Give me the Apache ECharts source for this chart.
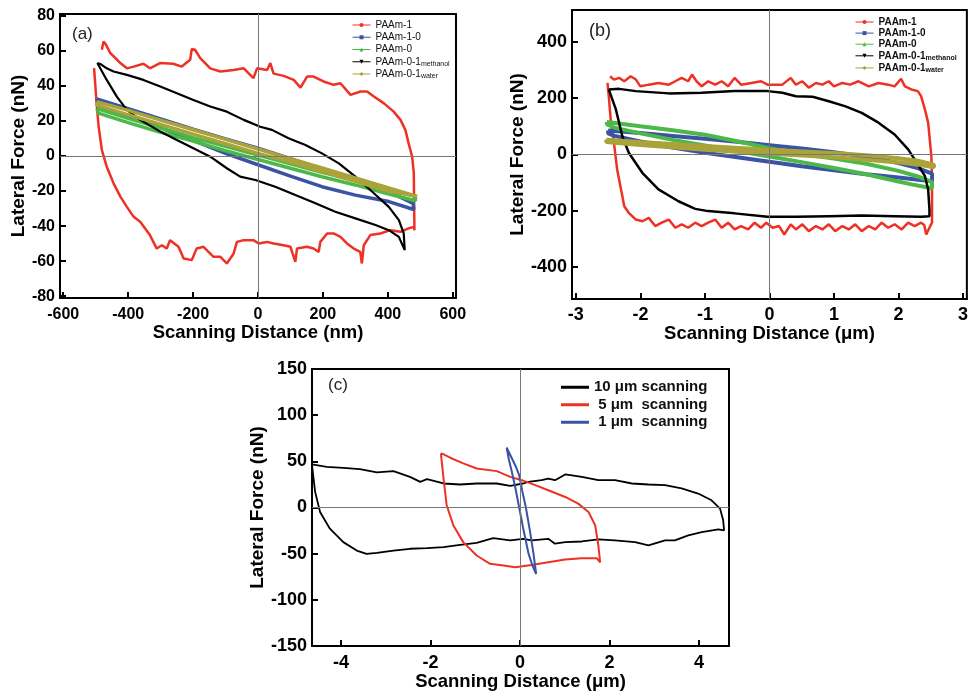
<!DOCTYPE html>
<html>
<head>
<meta charset="utf-8">
<script src="https://cdn.jsdelivr.net/npm/echarts@6/dist/echarts.min.js"></script>
<style>
  html, body { margin: 0; padding: 0; background: #fff; }
  #chart { width: 971px; height: 699px; }
</style>
</head>
<body>
<div id="chart"></div>
<script>
// ---- tick labels ----
const aXTicks = [-600, -400, -200, 0, 200, 400, 600];
const aYTicks = [-80, -60, -40, -20, 0, 20, 40, 60, 80];
const bXTicks = [-3, -2, -1, 0, 1, 2, 3];
const bYTicks = [-400, -200, 0, 200, 400];
const cXTicks = [-4, -2, 0, 2, 4];
const cYTicks = [-150, -100, -50, 0, 50, 100, 150];

// ---- legend names ----
const abNames = ['PAAm-1', 'PAAm-1-0', 'PAAm-0', 'PAAm-0-1methanol', 'PAAm-0-1water'];
const cNames = ['10 μm scanning', '5 μm  scanning', '1 μm  scanning'];

// ---- panel (a): scanning distance (nm), lateral force (nN) ----
const aRed = [
  [-481,60.6],[-476,65.3],[-468,63.4],[-455,58.7],[-434,54.9],[-424,53],[-404,50],[-383,51],[-353,52.6],[-333,50],
  [-302,53],[-261,52.6],[-235,51],[-209,54.9],[-204,61],[-194,60.6],[-178,55.8],[-147,50],[-116,48.2],[-75,49.1],
  [-44,50],[-14,44.4],[-3,50],[28,49],[38,53],[48,47],[79,45.7],[110,43.4],[131,39],[151,45.3],[171,45.3],
  [202,42.5],[233,40.6],[254,41.5],[285,34.9],[316,36.8],[336,36.8],[357,33.9],[388,30],[418,25.3],[439,20.6],
  [454,14.9],[464,7.2],[475,-0.4],[480,-9.9],[482,-42.3],
  [480,-40.4],[464,-41.3],[439,-43.2],[408,-42.3],[377,-44.2],[346,-45.1],[326,-50.9],[320,-61.3],[315,-54.7],
  [295,-52.8],[274,-49.9],[254,-46.1],[233,-44.2],[213,-44.2],[192,-49],[187,-54.7],[171,-52.8],[151,-51.8],
  [120,-52.8],[115,-60.4],[100,-51.8],[79,-50.9],[48,-49.9],[28,-49],[2,-49.9],[-14,-48],[-44,-48],[-65,-49],
  [-75,-55.6],[-96,-61.3],[-116,-57.5],[-137,-57.5],[-168,-51.8],[-189,-52.8],[-204,-59.4],[-229,-58.5],
  [-245,-51.8],[-271,-48],[-281,-52.8],[-296,-50.9],[-312,-52.8],[-333,-45.1],[-363,-37.5],[-383,-34.7],
  [-404,-29],[-424,-23.2],[-445,-15.6],[-466,-6.1],[-481,3.4],[-491,16.8],[-498,32],[-505,50.1]
];
const aBlue = [
  [-497,32.5],[-400,27],[-300,21.2],[-200,15.3],[-100,9.8],[0,4.4],[100,-1.5],[200,-7.5],[300,-13.5],[400,-20],[478,-27],
  [480,-30.5],[403,-26],[300,-22.3],[197,-17.5],[100,-11.5],[0,-5],[-100,1.5],[-250,12.6],[-400,23],[-490,28.5],[-497,32.5]
];
const aGreen = [
  [-496,27],[-400,21.5],[-300,16],[-200,10.5],[-100,5.5],[0,0.5],[100,-4.5],[200,-9.5],[300,-14],[400,-19],[485,-23],
  [485,-25.5],[400,-21.5],[300,-16.5],[200,-12],[100,-7],[0,-2],[-100,3],[-200,8.5],[-300,13.5],[-400,19],[-492,24.5],[-496,27]
];
const aBlack = [
  [-495,53],[-486,52.5],[-466,50],[-445,48.2],[-404,46.3],[-353,43.4],[-301,39.6],[-250,35.8],[-199,32],[-147,28.2],
  [-96,25.3],[-44,20.6],[7,16.7],[43,14.9],[94,10.1],[146,6.3],[197,1.5],[249,-4.2],[300,-11.8],[352,-20.4],
  [403,-29],[434,-36.6],[449,-44.2],[452,-53.7],
  [449,-52.7],[434,-46.1],[403,-42.3],[362,-39.4],[300,-35.6],[238,-31.8],[177,-27],[115,-22.3],[53,-17.5],
  [-8,-13.7],[-55,-11.8],[-96,-7],[-147,-0.4],[-199,4.4],[-250,9.1],[-301,13.9],[-363,20.6],[-404,26.3],
  [-435,33.9],[-466,43.4],[-495,53]
];
const aOlive = [
  [-497,31],[-400,26],[-300,20.5],[-200,15],[-100,9.5],[0,4],[100,-1.5],[200,-7],[300,-12.5],[400,-18],[490,-23],
  [490,-24],[400,-20],[300,-14.5],[200,-9],[100,-3.5],[0,1.5],[-100,7],[-200,12.5],[-300,18],[-400,23.5],[-497,29],[-497,31]
];

// ---- panel (b): scanning distance (μm), lateral force (nN) ----
const bRed = [
  [-2.47,278],[-2.41,266],[-2.33,272],[-2.25,260],[-2.15,278],[-2.07,266],[-2.0,242],[-1.87,248],[-1.72,254],[-1.56,248],
  [-1.46,260],[-1.36,272],[-1.26,260],[-1.2,284],[-1.13,260],[-1.05,242],[-0.95,260],[-0.84,248],[-0.74,260],[-0.64,242],
  [-0.54,272],[-0.44,248],[-0.28,254],[-0.13,260],[-0.03,248],[0.05,248],[0.2,248],[0.33,272],[0.41,248],[0.51,260],
  [0.61,237],[0.72,254],[0.82,248],[0.92,260],[1.0,242],[1.13,254],[1.25,248],[1.38,260],[1.54,242],[1.69,254],
  [1.84,248],[1.94,242],[2.04,269],[2.1,242],[2.2,231],[2.3,225],[2.35,207],[2.41,160],[2.46,113],[2.48,65],
  [2.51,-6],[2.52,-100],[2.52,-242],[2.48,-260],[2.43,-284],[2.4,-250],
  [2.35,-242],[2.25,-254],[2.15,-242],[2.05,-266],[1.94,-248],[1.84,-260],[1.74,-242],[1.64,-266],[1.54,-254],
  [1.43,-272],[1.33,-248],[1.23,-266],[1.13,-254],[1.02,-272],[0.92,-248],[0.82,-266],[0.72,-254],[0.61,-272],
  [0.51,-248],[0.41,-266],[0.33,-248],[0.23,-284],[0.15,-254],[0.05,-260],[-0.05,-242],[-0.13,-260],[-0.23,-242],
  [-0.33,-266],[-0.44,-254],[-0.54,-266],[-0.64,-242],[-0.74,-260],[-0.84,-231],[-0.95,-242],[-1.05,-254],
  [-1.15,-242],[-1.26,-260],[-1.36,-248],[-1.46,-260],[-1.56,-231],[-1.67,-242],[-1.77,-254],[-1.87,-225],
  [-1.97,-237],[-2.07,-231],[-2.18,-207],[-2.25,-184],[-2.3,-124],[-2.36,-53],[-2.41,42],[-2.46,124],[-2.49,207],[-2.51,254]
];
const bBlue = [
  [-2.5,85],[-2,76],[-1.5,66],[-1,56],[-0.5,45],[0,33],[0.5,21],[1,8],[1.5,-8],[2,-30],[2.3,-48],[2.52,-68],
  [2.52,-95],[2,-82],[1.5,-70],[1,-56],[0.5,-42],[0,-26],[-0.5,-10],[-1,6],[-1.5,25],[-2,46],[-2.4,66],[-2.5,75],[-2.5,85]
];
const bGreen = [
  [-2.52,115],[-2,100],[-1.5,86],[-1,70],[-0.5,47],[0,22],[0.5,2],[1,-14],[1.5,-33],[2,-58],[2.3,-78],[2.52,-98],
  [2.52,-120],[2.2,-106],[2,-96],[1.5,-70],[1,-48],[0.5,-27],[0,-7],[-0.5,12],[-1,32],[-1.5,52],[-2,75],[-2.4,95],[-2.52,108],[-2.52,115]
];
const bBlack = [
  [-2.49,231],[-2.33,233],[-2.07,225],[-1.56,217],[-1.05,219],[-0.54,225],[-0.03,225],[0.2,219],[0.41,207],[0.67,205],
  [0.92,189],[1.18,171],[1.43,148],[1.69,113],[1.94,71],[2.15,18],[2.3,-35],[2.41,-77],[2.46,-124],[2.48,-195],[2.48,-219],
  [2.35,-221],[1.94,-219],[1.43,-217],[0.92,-219],[0.41,-221],[-0.03,-221],[-0.54,-209],[-0.95,-201],[-1.15,-193],
  [-1.41,-166],[-1.72,-124],[-1.97,-65],[-2.18,6],[-2.28,65],[-2.38,160],[-2.49,231]
];
const bOlive = [
  [-2.53,52],[-2,44],[-1,30],[0,17],[1,5],[1.5,-3],[2,-13],[2.3,-22],[2.55,-36],
  [2.55,-45],[2.3,-36],[2,-28],[1.5,-19],[1,-10],[0,3],[-1,17],[-2,34],[-2.53,44],[-2.53,52]
];

// ---- panel (c): scanning distance (μm), lateral force (nN) ----
const c10um = [
  [-4.65,46.7],[-4.32,44],[-3.95,43],[-3.58,41.6],[-3.2,38],[-2.83,39.4],[-2.46,33.2],[-2.23,27.7],[-2.08,30.7],
  [-1.71,26],[-1.34,24.9],[-0.97,26],[-0.52,26],[-0.22,23.4],[0.07,26],[0.19,27.7],[0.48,29.6],[0.63,31.4],
  [0.78,29.6],[1.01,35.8],[1.38,33.2],[1.75,29.6],[2.12,29.6],[2.5,26],[2.87,24.9],[3.24,24.2],[3.61,20.6],
  [3.98,15.1],[4.28,7.8],[4.47,-1.2],[4.54,-13.9],[4.56,-24.8],
  [4.43,-23.7],[4.06,-26.7],[3.76,-30.2],[3.46,-35.7],[3.24,-35.7],[2.87,-41.1],[2.57,-37.5],[2.12,-35.7],
  [1.75,-34.6],[1.38,-36.8],[1.01,-37.5],[0.78,-39.2],[0.63,-33.9],[0.26,-35.7],[0.07,-33.9],[-0.22,-35.7],
  [-0.6,-33.2],[-0.97,-38.2],[-1.34,-40.4],[-1.71,-43],[-2.08,-44],[-2.46,-44.7],[-2.83,-46.6],[-3.2,-49.1],
  [-3.43,-50.2],[-3.65,-46.6],[-3.95,-37.5],[-4.25,-23],[-4.47,-4.9],[-4.58,16.9],[-4.65,46]
];
const c5um = [
  [-1.77,58.6],[-1.71,31.4],[-1.64,2.4],[-1.49,-19.4],[-1.27,-37.5],[-0.97,-52],[-0.67,-61],[-0.37,-62.9],
  [-0.11,-64.7],[0.26,-62.2],[0.63,-59.3],[1.01,-56.4],[1.38,-54.9],[1.71,-54.9],[1.79,-59.3],[1.75,-41.1],
  [1.68,-19.4],[1.53,-4.9],[1.3,4.2],[1.01,11.4],[0.63,18.7],[0.34,24.2],[0.04,29.6],[-0.22,33.2],[-0.52,39.4],
  [-0.97,42.3],[-1.27,47.8],[-1.56,53.9],[-1.71,57.6],[-1.77,58.6]
];
const c1um = [
  [-0.3,65],[-0.2,55],[-0.1,45],[-0.02,35],[0.05,18],[0.13,0],[0.22,-25],[0.3,-50],[0.36,-72],
  [0.27,-62],[0.19,-50],[0.08,-25],[-0.02,0],[-0.1,20],[-0.19,40],[-0.25,52],[-0.3,65]
];

const FONT = '"Liberation Sans", Arial, sans-serif';
const RED = '#ee3124', BLUE = '#3a53a4', GREEN = '#4cb848', OLIVE = '#a9a33a', BLACK = '#000000';

function xAxisOf(grid, min, max, ticks, name, fs, margin) {
  return {
    gridIndex: grid, type: 'value', min: min, max: max,
    axisLine: { onZero: false, lineStyle: { color: '#000', width: 2 } },
    axisTick: { inside: true, length: 6, lineStyle: { color: '#000', width: 2 }, customValues: ticks },
    axisLabel: { customValues: ticks, color: '#000', fontWeight: 'bold', fontSize: fs, fontFamily: FONT, margin: margin },
    splitLine: { show: false },
    name: name, nameLocation: 'middle', nameGap: 23,
    nameTextStyle: { color: '#000', fontWeight: 'bold', fontSize: 18.5, fontFamily: FONT }
  };
}
function yAxisOf(grid, min, max, ticks, fs, gap) {
  return {
    gridIndex: grid, type: 'value', min: min, max: max,
    axisLine: { onZero: false, lineStyle: { color: '#000', width: 2 } },
    axisTick: { inside: true, length: 6, lineStyle: { color: '#000', width: 2 }, customValues: ticks },
    axisLabel: { customValues: ticks, color: '#000', fontWeight: 'bold', fontSize: fs, fontFamily: FONT, margin: 5 },
    splitLine: { show: false },
    name: 'Lateral Force (nN)', nameLocation: 'middle', nameGap: gap,
    nameTextStyle: { color: '#000', fontWeight: 'bold', fontSize: 19, fontFamily: FONT }
  };
}
const cross = {
  silent: true, symbol: ['none', 'none'], animation: false,
  label: { show: false },
  lineStyle: { color: '#777', width: 1, type: 'solid' },
  data: [{ xAxis: 0 }, { yAxis: 0 }]
};
function line(name, data, color, width, ax, symbol, withCross) {
  const s = {
    name: name, type: 'line', data: data, xAxisIndex: ax, yAxisIndex: ax,
    symbol: symbol, symbolSize: 4, showSymbol: false, smooth: false,
    lineStyle: { color: color, width: width }, itemStyle: { color: color },
    animation: false, silent: true
  };
  if (withCross) s.markLine = cross;
  return s;
}
const downTri = 'path://M0,0L10,0L5,9Z';

function subFmt(name) {
  if (name === 'PAAm-0-1methanol') return 'PAAm-0-1{s|methanol}';
  if (name === 'PAAm-0-1water') return 'PAAm-0-1{s|water}';
  return name;
}

const option = {
  backgroundColor: '#fff',
  title: [
    { text: '(a)', left: 72, top: 26, padding: 0, textStyle: { fontSize: 17, fontWeight: 'normal', color: '#222', fontFamily: FONT } },
    { text: '(b)', left: 589, top: 22, padding: 0, textStyle: { fontSize: 18, fontWeight: 'normal', color: '#222', fontFamily: FONT } },
    { text: '(c)', left: 328, top: 377, padding: 0, textStyle: { fontSize: 17, fontWeight: 'normal', color: '#222', fontFamily: FONT } }
  ],
  grid: [
    { left: 60, top: 14, width: 396, height: 284, show: true, borderColor: '#000', borderWidth: 2, backgroundColor: 'transparent' },
    { left: 572, top: 10, width: 397, height: 289, show: true, borderColor: '#000', borderWidth: 2, backgroundColor: 'transparent' },
    { left: 312, top: 369, width: 417, height: 277, show: true, borderColor: '#000', borderWidth: 2, backgroundColor: 'transparent' }
  ],
  xAxis: [
    xAxisOf(0, -610, 610, aXTicks, 'Scanning Distance (nm)', 16, 9),
    xAxisOf(1, -3.06, 3.06, bXTicks, 'Scanning Distance (μm)', 18, 7),
    xAxisOf(2, -4.65, 4.67, cXTicks, 'Scanning Distance (μm)', 18, 8)
  ],
  yAxis: [
    yAxisOf(0, -81, 81, aYTicks, 16, 30),
    yAxisOf(1, -513, 513, bYTicks, 18, 40),
    yAxisOf(2, -150, 150, cYTicks, 18, 44)
  ],
  legend: [
    {
      data: abNames, left: 352, top: 19, orient: 'vertical', padding: 0,
      itemWidth: 18, itemHeight: 5, itemGap: 0.25, selectedMode: false,
      lineStyle: { width: 1 }, formatter: subFmt,
      textStyle: { fontSize: 10, lineHeight: 12, color: '#111', fontFamily: FONT,
        rich: { s: { fontSize: 7, lineHeight: 12, padding: [5, 0, 0, 0], color: '#111', fontFamily: FONT } } }
    },
    {
      data: abNames, left: 855, top: 16.5, orient: 'vertical', padding: 0,
      itemWidth: 18, itemHeight: 5, itemGap: 0.1, selectedMode: false,
      lineStyle: { width: 1 }, formatter: subFmt,
      textStyle: { fontSize: 10, lineHeight: 11, fontWeight: 'bold', color: '#111', fontFamily: FONT,
        rich: { s: { fontSize: 7, lineHeight: 11, fontWeight: 'bold', padding: [5, 0, 0, 0], color: '#111', fontFamily: FONT } } }
    },
    {
      data: cNames, left: 561, top: 378.5, orient: 'vertical', padding: 0,
      itemWidth: 28, itemHeight: 3, itemGap: 0, icon: 'rect', selectedMode: false,
      formatter: function (n) { return n.charAt(0) === '1' && n.charAt(1) === '0' ? n : ' ' + n; },
      textStyle: { fontSize: 15, lineHeight: 17.5, fontWeight: 'bold', color: '#111', fontFamily: FONT }
    }
  ],
  series: [
    line('PAAm-1', aRed, RED, 2.5, 0, 'circle', true),
    line('PAAm-1-0', aBlue, BLUE, 3.5, 0, 'rect'),
    line('PAAm-0', aGreen, GREEN, 3.5, 0, 'triangle'),
    line('PAAm-0-1methanol', aBlack, BLACK, 2.2, 0, downTri),
    line('PAAm-0-1water', aOlive, OLIVE, 3.5, 0, 'diamond'),
    line('PAAm-1', bRed, RED, 2.5, 1, 'circle', true),
    line('PAAm-1-0', bBlue, BLUE, 4, 1, 'rect'),
    line('PAAm-0', bGreen, GREEN, 4, 1, 'triangle'),
    line('PAAm-0-1methanol', bBlack, BLACK, 2.5, 1, downTri),
    line('PAAm-0-1water', bOlive, OLIVE, 4, 1, 'diamond'),
    line('10 μm scanning', c10um, BLACK, 1.8, 2, 'none', true),
    line('5 μm  scanning', c5um, RED, 2, 2, 'none'),
    line('1 μm  scanning', c1um, BLUE, 2, 2, 'none')
  ]
};

const myChart = echarts.init(document.getElementById('chart'));
myChart.setOption(option);
</script>
</body>
</html>
